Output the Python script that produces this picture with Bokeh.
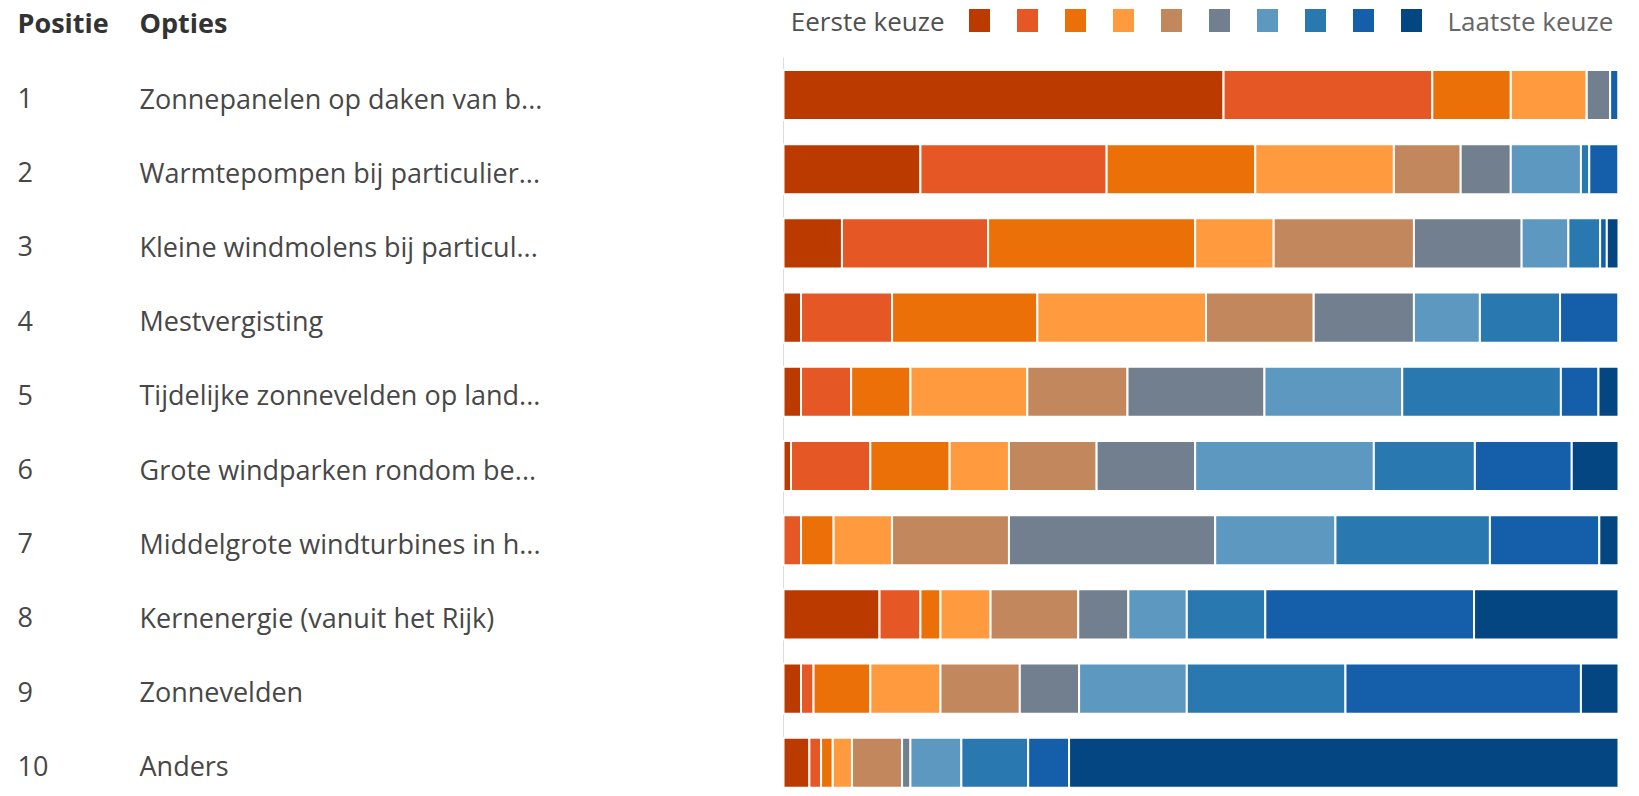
from bokeh.plotting import figure
from bokeh.models import Range1d, ColumnDataSource
from bokeh.embed import file_html
from bokeh.resources import INLINE
from bokeh.core.properties import value

# ---------------- data ----------------
posities = ["1", "2", "3", "4", "5", "6", "7", "8", "9", "10"]
opties = [
    "Zonnepanelen op daken van b...",
    "Warmtepompen bij particulier...",
    "Kleine windmolens bij particul...",
    "Mestvergisting",
    "Tijdelijke zonnevelden op land...",
    "Grote windparken rondom be...",
    "Middelgrote windturbines in h...",
    "Kernenergie (vanuit het Rijk)",
    "Zonnevelden",
    "Anders",
]
headers = ["Positie", "Opties"]
legend_labels = ["Eerste keuze", "Laatste keuze"]

# share (%) of each rank per option
keuze_1 = [52.7, 16.4, 7.0, 2.1, 2.1, 0.9, 0.0, 11.5, 2.1, 3.1]
keuze_2 = [25.0, 22.3, 17.5, 10.9, 6.0, 9.5, 2.1, 4.9, 1.5, 1.4]
keuze_3 = [9.4, 17.8, 24.8, 17.4, 7.1, 9.5, 3.9, 2.4, 6.8, 1.4]
keuze_4 = [9.1, 16.6, 9.4, 20.2, 14.0, 7.1, 7.0, 6.0, 8.4, 2.3]
keuze_5 = [0.0, 8.0, 16.8, 12.9, 12.0, 10.5, 14.0, 10.5, 9.5, 6.0]
keuze_6 = [2.8, 6.0, 12.9, 12.0, 16.4, 11.8, 24.7, 6.0, 7.1, 1.0]
keuze_7 = [0.0, 8.4, 5.6, 7.9, 16.5, 21.4, 14.4, 7.0, 12.9, 6.1]
keuze_8 = [0.0, 1.0, 3.8, 9.6, 19.0, 12.1, 18.5, 9.4, 19.0, 8.0]
keuze_9 = [1.0, 3.5, 0.8, 7.0, 4.5, 11.6, 13.1, 25.0, 28.2, 4.9]
keuze_10 = [0.0, 0.0, 1.4, 0.0, 2.4, 5.6, 2.3, 17.3, 4.5, 65.8]

colors = ["#BB3A00", "#E55725", "#EA7007", "#FF9A3E", "#C2875C",
          "#717F8F", "#5C98C0", "#2A78B0", "#155FAA", "#034681"]

# ---------------- layout ----------------
W, H = 1630, 788
bar_left_px, bar_right_px = 783, 1618
sx = (bar_right_px - bar_left_px) / 100.0          # px per %
row_step = 74.2
row1_px = 94.5                                      # px from top for row 1 centre
x_start = -bar_left_px / sx
x_end = 100 + (W - bar_right_px) / sx
y_top = 1 - row1_px / row_step
y_bot = 1 + (H - row1_px) / row_step

def px_x(px):
    return (px - bar_left_px) / sx

def px_y(py):
    return 1 + (py - row1_px) / row_step

p = figure(width=W, height=H, output_backend="svg", toolbar_location=None,
           x_range=Range1d(x_start, x_end), y_range=Range1d(y_bot, y_top),
           min_border=0, min_border_left=0, min_border_right=0,
           min_border_top=0, min_border_bottom=0)
p.axis.visible = False
p.grid.visible = False
p.outline_line_color = None
p.background_fill_color = "white"
p.border_fill_color = "white"

rows = list(range(1, len(opties) + 1))
names = [f"k{i}" for i in range(1, 11)]
src = ColumnDataSource(dict(rij=rows, k1=keuze_1, k2=keuze_2, k3=keuze_3, k4=keuze_4,
                            k5=keuze_5, k6=keuze_6, k7=keuze_7, k8=keuze_8,
                            k9=keuze_9, k10=keuze_10))

# axis line
p.segment(x0=[0], y0=[px_y(57)], x1=[0], y1=[y_bot], line_color="#dcdcdc", line_width=1)

p.hbar_stack(names, y="rij", height=0.675, color=colors, line_color="white",
             line_width=2, source=src)

font = value("Open Sans")
txt_off = 3.0 / row_step
p.text(x=[px_x(17)] * len(posities), y=[r + txt_off for r in rows], text=posities,
       text_font=font, text_font_size="27px", text_color="#474747",
       text_baseline="middle", text_align="left")
p.text(x=[px_x(139)] * len(opties), y=[r + txt_off for r in rows], text=opties,
       text_font=font, text_font_size="27px", text_color="#474747",
       text_baseline="middle", text_align="left")

# headers
p.text(x=[px_x(17), px_x(139)], y=[px_y(22)] * 2, text=headers,
       text_font=font, text_font_size="27px", text_font_style="bold",
       text_color="#333333", text_baseline="middle", text_align="left")

# legend
leg_y = px_y(20)
first_sq_px, sq_step = 979, 48.0
p.rect(x=[px_x(first_sq_px + i * sq_step) for i in range(10)], y=[leg_y] * 10,
       width=21, height=23, width_units="screen", height_units="screen",
       fill_color=colors, line_color=None)
p.text(x=[px_x(944)], y=[leg_y], text=[legend_labels[0]], text_font=font,
       text_font_size="26px", text_color="#505050", text_baseline="middle",
       text_align="right")
p.text(x=[px_x(1447)], y=[leg_y], text=[legend_labels[1]], text_font=font,
       text_font_size="26px", text_color="#666666", text_baseline="middle",
       text_align="left")

open("out.html", "w").write(file_html(p, INLINE))
